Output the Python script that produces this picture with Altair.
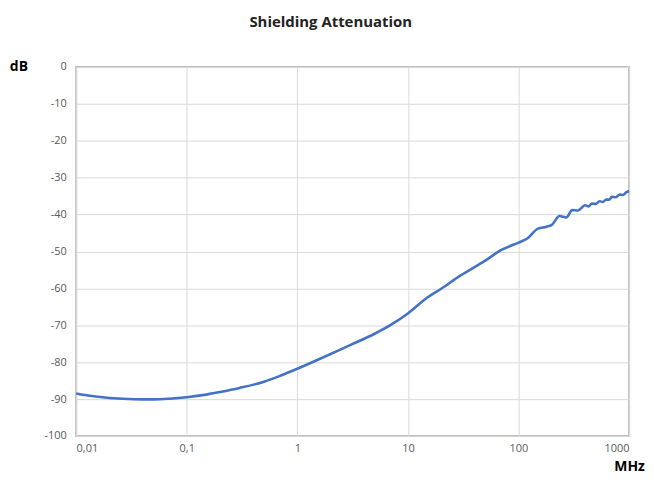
import altair as alt
import pandas as pd

freq_mhz = [0.01, 0.012, 0.015, 0.02, 0.03, 0.04, 0.05, 0.07, 0.1, 0.15, 0.2, 0.3, 0.5, 0.7,
            1, 1.5, 2, 3, 5, 7, 10, 15, 20, 30, 50, 70, 100, 120, 150, 180, 200, 235, 270,
            306, 345, 400, 430, 460, 500, 540, 580, 620, 660, 700, 760, 820, 880, 940, 1000]
atten_db = [-88.5, -88.9, -89.3, -89.7, -90.0, -90.1, -90.1, -89.9, -89.5, -88.8, -88.1, -87.0,
            -85.3, -83.7, -81.8, -79.5, -77.8, -75.4, -72.3, -69.9, -66.8, -62.5, -60.1, -56.5,
            -52.5, -49.6, -47.6, -46.5, -43.8, -43.3, -42.8, -40.4, -40.8, -38.8, -38.9, -37.5,
            -37.8, -37.0, -37.1, -36.4, -36.6, -35.9, -36.0, -35.2, -35.3, -34.6, -34.7, -34.0,
            -33.6]
x_ticks = [0.01, 0.1, 1, 10, 100, 1000]
y_ticks = list(range(-100, 1, 10))

df = pd.DataFrame({"f": freq_mhz, "db": atten_db})

label_font = "Open Sans"

chart = alt.Chart(df).mark_line(color="#4472C4", strokeWidth=2.6, interpolate="monotone").encode(
    x=alt.X("f:Q",
            scale=alt.Scale(type="log", domain=[0.01, 1000], nice=False),
            axis=alt.Axis(values=x_ticks,
                          labelExpr="replace(toString(datum.value), '.', ',')",
                          title="MHz", titleAngle=0, titleX=556, titleY=31,
                          titleAlign="center", titleBaseline="middle",
                          titleFontSize=14, titleFontWeight="bold", titleColor="#000000",
                          titleFont=label_font,
                          labelFont=label_font, labelFontSize=11, labelColor="#595959",
                          labelPadding=7, ticks=False, domain=False,
                          gridColor="#d9d9d9", gridWidth=1)),
    y=alt.Y("db:Q",
            scale=alt.Scale(domain=[-100, 0], nice=False),
            axis=alt.Axis(values=y_ticks,
                          labelExpr="toString(datum.value)",
                          title="dB", titleAngle=0, titleX=-58, titleY=0,
                          titleAlign="center", titleBaseline="middle",
                          titleFontSize=14, titleFontWeight="bold", titleColor="#000000",
                          titleFont=label_font,
                          labelFont=label_font, labelFontSize=11, labelColor="#595959",
                          labelPadding=10, ticks=False, domain=False,
                          gridColor="#d9d9d9", gridWidth=1)),
).properties(
    width=556,
    height=371,
    title=alt.TitleParams("Shielding Attenuation", anchor="middle", dx=-22,
                          fontSize=15, fontWeight="bold", font=label_font,
                          color="#222222", offset=30),
    autosize=alt.AutoSizeParams(type="none"),
    padding={"left": 68.5, "top": 58, "right": 17, "bottom": 38},
).configure_view(
    stroke="#bfbfbf", strokeWidth=2
)

chart.save("out.html", embed_options={"renderer": "svg", "actions": False})
